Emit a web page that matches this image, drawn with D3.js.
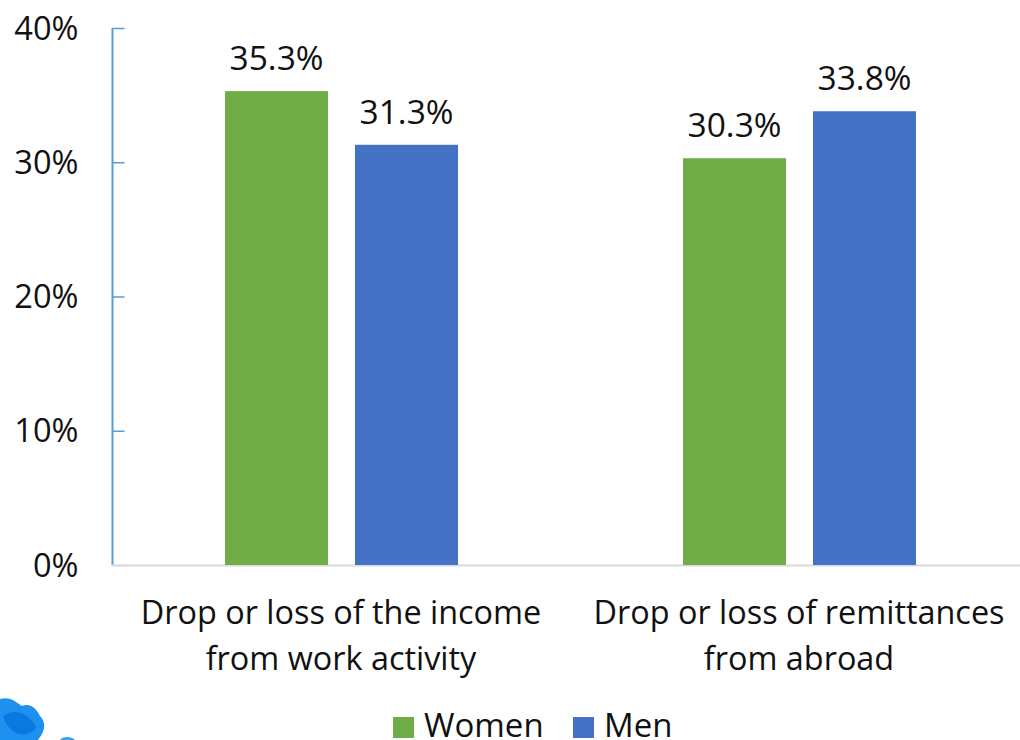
<!DOCTYPE html>
<html><head><meta charset="utf-8">
<style>html,body{margin:0;padding:0;background:#fff;overflow:hidden}text{font-family:"Open Sans",sans-serif;fill:#111}</style>
<script src="https://cdn.jsdelivr.net/npm/d3@7"></script></head>
<body><svg id="c" width="1020" height="740"></svg>
<script>
const categories=[["Drop or loss of the income","from work activity"],["Drop or loss of remittances","from abroad"]];
const seriesNames=["Women","Men"];
const womenValues=[35.3,30.3];
const menValues=[31.3,33.8];
const yTicks=[0,10,20,30,40];
const colors=["#70AD47","#4472C4"];
const svg=d3.select("#c");
const y=d3.scaleLinear().domain([0,40]).range([565,28]);
const x0=d3.scaleBand().domain([0,1]).range([113,1029]);
const groupW=234,barW=103;
const x1=d3.scalePoint().domain([0,1]).range([0,130]);
const gx=i=>x0(i)+(x0.bandwidth()-groupW)/2;
const fsTick=32.6,fsNum=33.5,fsCat=32.4,fsLeg=33;
const yAxis=d3.axisLeft(y).tickValues(yTicks).tickSize(-12).tickPadding(34).tickFormat(d=>d+"%");
const ga=svg.append("g").attr("transform","translate(112.5,0)").call(yAxis);
ga.select(".domain").attr("stroke","#5B9BD5").attr("stroke-width",2).attr("d","M0,28V565");
ga.selectAll(".tick line").attr("stroke","#5B9BD5").attr("stroke-width",1.5);
ga.selectAll(".tick text").attr("font-size",fsTick).attr("fill","#111").attr("dy","0.34em");
ga.selectAll(".tick").filter(d=>d===0).select("line").attr("stroke","#d9d9d9");
svg.append("line").attr("x1",112).attr("x2",1020).attr("y1",y(0)+.5).attr("y2",y(0)+.5).attr("stroke","#d9d9d9").attr("stroke-width",2);
[womenValues,menValues].forEach((vals,s)=>{
  const g=svg.append("g");
  g.selectAll("rect").data(vals).join("rect")
   .attr("x",(d,i)=>gx(i)+x1(s)).attr("width",barW)
   .attr("y",d=>y(d)).attr("height",d=>y(0)-y(d)).attr("fill",colors[s]);
  g.selectAll("text").data(vals).join("text")
   .attr("x",(d,i)=>gx(i)+x1(s)+barW/2).attr("y",d=>y(d)-21)
   .attr("text-anchor","middle").attr("font-size",fsNum).text(d=>d.toFixed(1)+"%");
});
categories.forEach((lines,i)=>{
  const t=svg.append("text").attr("text-anchor","middle").attr("font-size",fsCat);
  lines.forEach((l,j)=>t.append("tspan").attr("x",x0(i)+x0.bandwidth()/2-1).attr("y",624+j*46).text(l));
});
const lg=svg.append("g");
const legX=[393,573],legTx=[424,604];
seriesNames.forEach((n,i)=>{
  lg.append("rect").attr("x",legX[i]).attr("y",717).attr("width",21).attr("height",21).attr("fill",colors[i]);
  lg.append("text").attr("x",legTx[i]).attr("y",737).attr("font-size",fsLeg).text(n);
});
const logo=svg.append("g");
logo.append("path").attr("d","M0,699 C10,696 16,702 22,706 C30,703 36,708 40,716 C46,722 46,730 38,740 L0,740 Z").attr("fill","#1E90F0");
logo.append("path").attr("d","M3,716 C16,706 32,716 36,728 C28,738 10,738 3,716 Z").attr("fill","#0A78E0");
logo.append("path").attr("d","M60,740 C62,736 72,736 75,740 Z").attr("fill","#3AA0F0");
</script></body></html>
